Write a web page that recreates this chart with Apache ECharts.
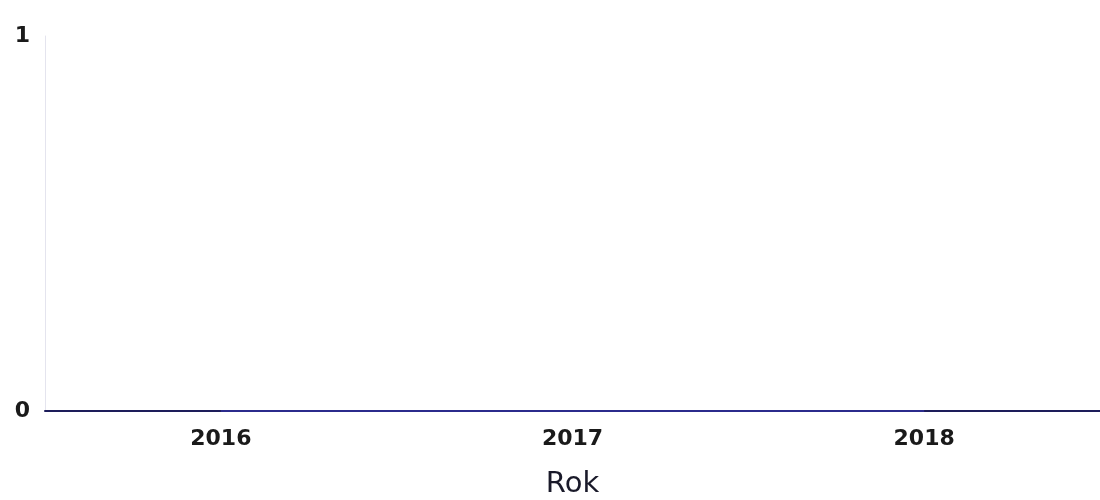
<!DOCTYPE html>
<html><head><meta charset="utf-8">
<script src="https://cdn.jsdelivr.net/npm/echarts@6/dist/echarts.min.js"></script>
<style>html,body{margin:0;padding:0;background:#fff}#c{width:1100px;height:500px}</style>
</head><body><div id="c"></div>
<script>
const categories = ['2016', '2017', '2018'];
const values = [0, 0, 0];
const xAxisName = 'Rok';
const chart = echarts.init(document.getElementById('c'));
chart.setOption({
  animation: false,
  grid: { left: 45, right: 0, top: 36, bottom: 89, containLabel: false, outerBoundsMode: 'none' },
  xAxis: {
    type: 'category', data: categories, boundaryGap: true,
    name: xAxisName, nameLocation: 'middle', nameGap: 59,
    nameTextStyle: { fontFamily: 'DejaVu Sans', fontSize: 29, color: '#1a1a2a' },
    axisLine: { lineStyle: { color: '#1d1d5a', width: 2 } },
    axisTick: { show: false },
    axisLabel: { fontFamily: 'DejaVu Sans', fontSize: 22, fontWeight: 'bold', color: '#1a1a1a', margin: 17 }
  },
  yAxis: {
    type: 'value', min: 0, max: 1, interval: 1,
    axisLine: { show: true, lineStyle: { color: '#e4e4ee', width: 1 } },
    axisTick: { show: false },
    splitLine: { show: false },
    axisLabel: { fontFamily: 'DejaVu Sans', fontSize: 22, fontWeight: 'bold', color: '#1a1a1a', margin: 15 }
  },
  series: [{
    type: 'line', data: values, symbol: 'none',
    lineStyle: { color: '#2b2b8c', width: 2 }
  }]
});
</script></body></html>
